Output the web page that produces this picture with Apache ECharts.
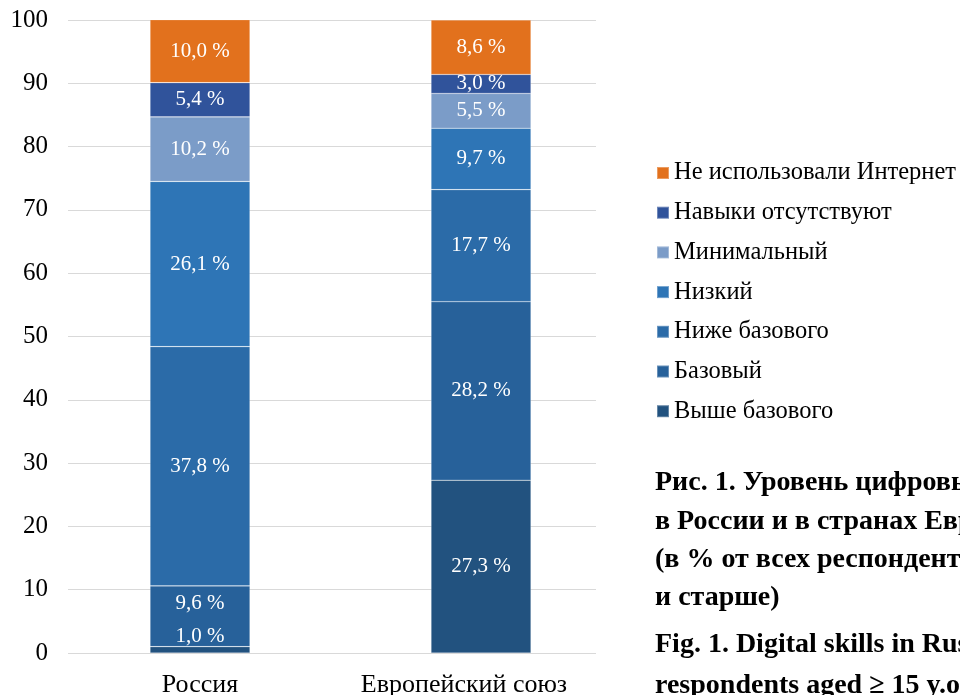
<!DOCTYPE html>
<html>
<head>
<meta charset="utf-8">
<script src="https://cdn.jsdelivr.net/npm/echarts@6/dist/echarts.min.js"></script>
<style>
html,body{margin:0;padding:0;background:#fff;}
#chart{width:960px;height:695px;}
</style>
</head>
<body>
<div id="chart"></div>
<script>
var categories = ['Россия', 'Европейский союз'];
var seriesNames = ['Выше базового', 'Базовый', 'Ниже базового', 'Низкий', 'Минимальный', 'Навыки отсутствуют', 'Не использовали Интернет'];
var vysheBazovogo = [1.0, 27.3];
var bazovyi = [9.6, 28.2];
var nizheBazovogo = [37.8, 17.7];
var nizkii = [26.1, 9.7];
var minimalnyi = [10.2, 5.5];
var navykiOtsutstvuyut = [5.4, 3.0];
var neIspolzovali = [10.0, 8.6];
var yTicks = [0, 10, 20, 30, 40, 50, 60, 70, 80, 90, 100];
var captionRu = ['Рис. 1. Уровень цифровых навыков', 'в России и в странах Европейского союза', '(в % от всех респондентов в возрасте 15 лет', 'и старше)'];
var captionEn = ['Fig. 1. Digital skills in Russia and EU countries (% of all', 'respondents aged ≥ 15 y.o.)'];

var seriesData = [vysheBazovogo, bazovyi, nizheBazovogo, nizkii, minimalnyi, navykiOtsutstvuyut, neIspolzovali];
var colors = ['#22527F', '#27619A', '#2B6BA8', '#2E75B6', '#7B9CC8', '#30539B', '#E2711D'];
var FONT = '"Liberation Serif", "Times New Roman", serif';

function fmt(v) { return v.toFixed(1).replace('.', ',') + ' %'; }

var series = seriesNames.map(function (name, i) {
  return {
    name: name,
    type: 'bar',
    stack: 'total',
    xAxisIndex: 0,
    yAxisIndex: 0,
    barWidth: 100,
    itemStyle: { color: colors[i], borderColor: 'rgba(255,255,255,0.3)', borderWidth: 0.6 },
    label: {
      show: true,
      position: 'inside',
      color: '#fff',
      fontFamily: FONT,
      fontSize: 21,
      formatter: function (p) { return fmt(p.value); }
    },
    data: seriesData[i].map(function (v, j) {
      var d = { value: v };
      if (j === 0 && (i === 0 || i === 1)) { d.label = { offset: [0, -13] }; }
      return d;
    })
  };
});

var captionLinesY = [483, 522, 560, 598];
var captionEnY = [645, 686];
var graphics = [];
captionRu.forEach(function (t, k) {
  graphics.push({ type: 'text', x: 655, y: captionLinesY[k],
    style: { text: t, font: 'bold 28px ' + FONT, fill: '#000', textVerticalAlign: 'middle', verticalAlign: 'middle' } });
});
captionEn.forEach(function (t, k) {
  graphics.push({ type: 'text', x: 655, y: captionEnY[k],
    style: { text: t, font: 'bold 28px ' + FONT, fill: '#000', textVerticalAlign: 'middle', verticalAlign: 'middle' } });
});

var chart = echarts.init(document.getElementById('chart'), null, { renderer: 'canvas' });
chart.setOption({
  animation: false,
  backgroundColor: '#fff',
  grid: [
    { left: 59.5, right: 338.5, top: 20, bottom: 42, containLabel: false, outerBoundsMode: 'none' },
    { left: 68, right: 364, top: 20, bottom: 42, containLabel: false, outerBoundsMode: 'none' }
  ],
  xAxis: [
    { gridIndex: 0, type: 'category', data: categories, show: false },
    {
      gridIndex: 1, type: 'category', data: categories,
      axisLine: { show: false }, axisTick: { show: false },
      axisLabel: { interval: 0, color: '#000', fontFamily: FONT, fontSize: 26, margin: 19 }
    }
  ],
  yAxis: [
    { gridIndex: 0, type: 'value', min: 0, max: 100, show: false },
    {
      gridIndex: 1, type: 'value', min: yTicks[0], max: yTicks[yTicks.length - 1], interval: 10,
      axisLine: { show: false }, axisTick: { show: false },
      splitLine: { lineStyle: { color: '#D9D9D9', width: 1.2 } },
      axisLabel: { color: '#000', fontFamily: FONT, fontSize: 25, margin: 20 }
    }
  ],
  legend: {
    orient: 'vertical',
    left: 651,
    top: 155.5,
    icon: 'rect',
    itemWidth: 12,
    itemHeight: 12,
    itemGap: 14.7,
    data: seriesNames.slice().reverse(),
    textStyle: { color: '#000', fontFamily: FONT, fontSize: 24.5, lineHeight: 25 }
  },
  graphic: graphics,
  series: series
});
</script>
</body>
</html>
